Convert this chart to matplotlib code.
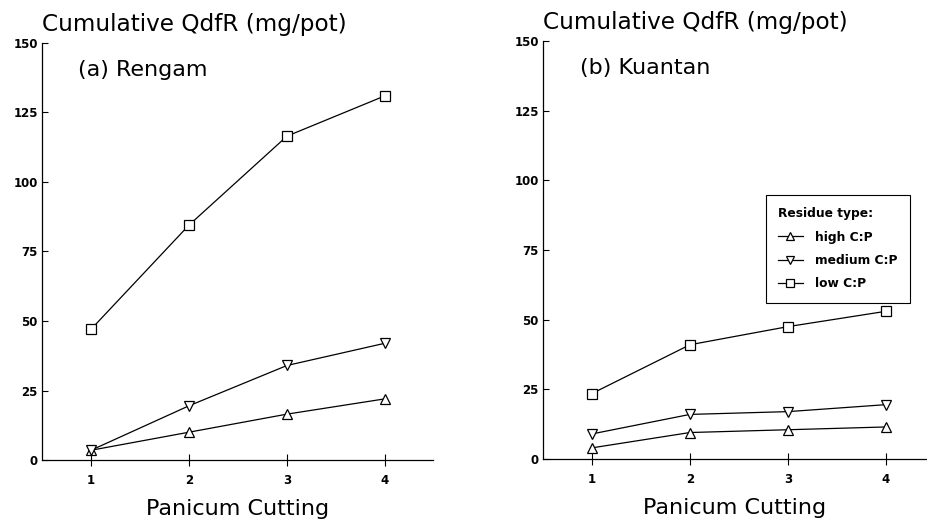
import matplotlib
matplotlib.use("Agg")
import matplotlib.pyplot as plt

plt.rcParams['font.family'] = ['DejaVu Sans']

cuttings = [1, 2, 3, 4]
yticks = [0, 25, 50, 75, 100, 125, 150]

# (a) Rengam
rengam_high = [3.5, 10, 16.5, 22]
rengam_medium = [3.5, 19.5, 34, 42]
rengam_low = [47, 84.5, 116.5, 131]

# (b) Kuantan
kuantan_high = [4, 9.5, 10.5, 11.5]
kuantan_medium = [9, 16, 17, 19.5]
kuantan_low = [23.5, 41, 47.5, 53]

labels = ["high C:P", "medium C:P", "low C:P"]
markers = ["^", "v", "s"]

W, H = 928, 530
fig = plt.figure(figsize=(W / 100, H / 100), dpi=100)


def px_axes(x0, x1, y0, y1):
    return fig.add_axes([x0 / W, 1 - y1 / H, (x1 - x0) / W, (y1 - y0) / H])


ax1 = px_axes(42, 433, 43, 460)
ax2 = px_axes(543, 927, 41, 459)


def style(ax, xmax, series, name, name_x):
    for vals, m, lab in zip(series, markers, labels):
        ax.plot(cuttings, vals, color="black", lw=0.9, marker=m, ms=7,
                mfc="white", mec="black", mew=0.9, label=lab)
    ax.set_xlim(0.5, xmax)
    ax.set_ylim(0, 150)
    ax.set_xticks(cuttings)
    ax.set_yticks(yticks)
    for s in ("top", "right"):
        ax.spines[s].set_visible(False)
    for s in ("left", "bottom"):
        ax.spines[s].set_linewidth(0.9)
    ax.tick_params(axis="x", direction="inout", length=8, width=0.8, pad=6)
    ax.tick_params(axis="y", direction="in", length=4, width=0.8, pad=3)
    for t in ax.get_xticklabels() + ax.get_yticklabels():
        t.set_fontsize(8.5)
        t.set_fontweight("bold")
    ax.set_xlabel("Panicum Cutting", fontsize=16, labelpad=9)
    ax.text(name_x, 0.935, name, transform=ax.transAxes, fontsize=16,
            va="center", ha="left")


style(ax1, 4.49, [rengam_high, rengam_medium, rengam_low], "(a) Rengam", 0.092)
style(ax2, 4.42, [kuantan_high, kuantan_medium, kuantan_low], "(b) Kuantan", 0.096)

fig.text(42 / W, 1 - 25 / H, "Cumulative QdfR (mg/pot)", fontsize=16.7,
         va="center", ha="left")
fig.text(543 / W, 1 - 23 / H, "Cumulative QdfR (mg/pot)", fontsize=16.7,
         va="center", ha="left")

leg = ax2.legend(loc="upper left", bbox_to_anchor=(766 / W, 1 - 195 / H),
                 bbox_transform=fig.transFigure, title="Residue type:",
                 alignment="left", fancybox=False, edgecolor="black",
                 framealpha=1, fontsize=8.8, handlelength=2.0, markerscale=0.85,
                 borderpad=1.0, labelspacing=0.85, handletextpad=1.0,
                 borderaxespad=0)
leg.get_frame().set_linewidth(0.8)
leg.get_title().set_fontsize(8.8)
leg.get_title().set_fontweight("bold")
for t in leg.get_texts():
    t.set_fontweight("bold")

fig.savefig("out.png", dpi=100)
